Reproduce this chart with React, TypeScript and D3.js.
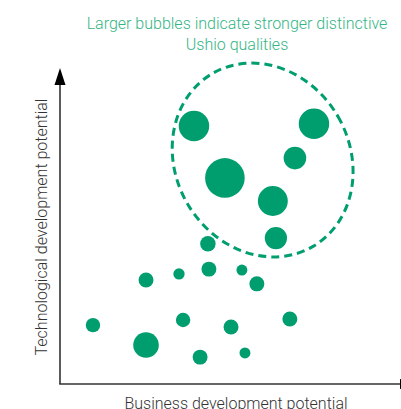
import React from "react";
import * as d3 from "d3";

// Business potential (x), technological potential (y), distinctive quality score (size)
const businessPotential = [3.94, 7.47, 6.91, 4.85, 6.26, 6.35, 4.35, 3.5, 4.38, 5.35, 2.53, 5.79, 0.97, 3.62, 5.03, 6.76, 2.53, 4.12, 5.44];
const technologicalPotential = [8.06, 8.13, 7.06, 6.44, 5.72, 4.56, 4.38, 3.44, 3.59, 3.56, 3.25, 3.13, 1.84, 2.0, 1.78, 2.03, 1.22, 0.84, 0.97];
const qualityScore = [58, 58, 32, 98, 56, 31, 15, 8, 14, 7.5, 14, 14, 13, 13, 14, 14, 41, 14, 7.5];

const titleLines = ["Larger bubbles indicate stronger distinctive", "Ushio qualities"];
const xAxisLabel = "Business development potential";
const yAxisLabel = "Technological development potential";

// Highlighted cluster: centre in data units
const clusterCenter = [5.96, 7.0];

const W = 401;
const H = 409;
const GREEN = "#009e6f";
const TITLE_GREEN = "#34b585";
const AXIS = "#333333";
const FONT = "Roboto, 'Noto Sans', sans-serif";

export default function App() {
  const x = d3.scaleLinear().domain([0, 10]).range([60, 400]);
  const y = d3.scaleLinear().domain([0, 10]).range([384, 64]);
  const r = d3.scaleSqrt().domain([0, 100]).range([0, 20]);

  const points = businessPotential.map((b, i) => ({
    x: b,
    y: technologicalPotential[i],
    s: qualityScore[i],
  }));

  const cx = x(clusterCenter[0]);
  const cy = y(clusterCenter[1]);

  return (
    <svg
      width={W}
      height={H}
      style={{ position: "absolute", left: 0, top: 0, display: "block" }}
    >
      <rect width={W} height={H} fill="#ffffff" />

      {/* title */}
      <text
        x={237}
        y={29}
        textAnchor="middle"
        fill={TITLE_GREEN}
        fontFamily={FONT}
        fontWeight={300}
        fontSize={16}
      >
        <tspan x={237}>{titleLines[0]}</tspan>
        <tspan x={237} dy={21}>{titleLines[1]}</tspan>
      </text>

      {/* cluster outline */}
      <ellipse
        cx={cx}
        cy={cy}
        rx={87}
        ry={100}
        transform={`rotate(-30 ${cx} ${cy})`}
        fill="none"
        stroke={GREEN}
        strokeWidth={3}
        strokeDasharray="8 5"
      />

      {/* bubbles */}
      {points.map((p, i) => (
        <circle key={i} cx={x(p.x)} cy={y(p.y)} r={r(p.s)} fill={GREEN} />
      ))}

      {/* axes */}
      <line x1={x(0)} y1={y(0)} x2={x(0)} y2={84} stroke={AXIS} strokeWidth={1.6} />
      <path d={`M${x(0) - 5.5},85 L${x(0)},68 L${x(0) + 5.5},85 Z`} fill="#000" />
      <line x1={x(0) - 0.8} y1={y(0)} x2={400} y2={y(0)} stroke={AXIS} strokeWidth={1.6} />
      <path d={`M400,${y(0) - 5} L416,${y(0)} L400,${y(0) + 5} Z`} fill="#000" />

      {/* axis labels */}
      <text
        x={236}
        y={409}
        textAnchor="middle"
        fill={AXIS}
        fontFamily={FONT}
        fontWeight={300}
        fontSize={16}
      >
        {xAxisLabel}
      </text>
      <text
        transform={`translate(47,227) rotate(-90)`}
        textAnchor="middle"
        fill={AXIS}
        fontFamily={FONT}
        fontWeight={300}
        fontSize={16}
      >
        {yAxisLabel}
      </text>
    </svg>
  );
}
